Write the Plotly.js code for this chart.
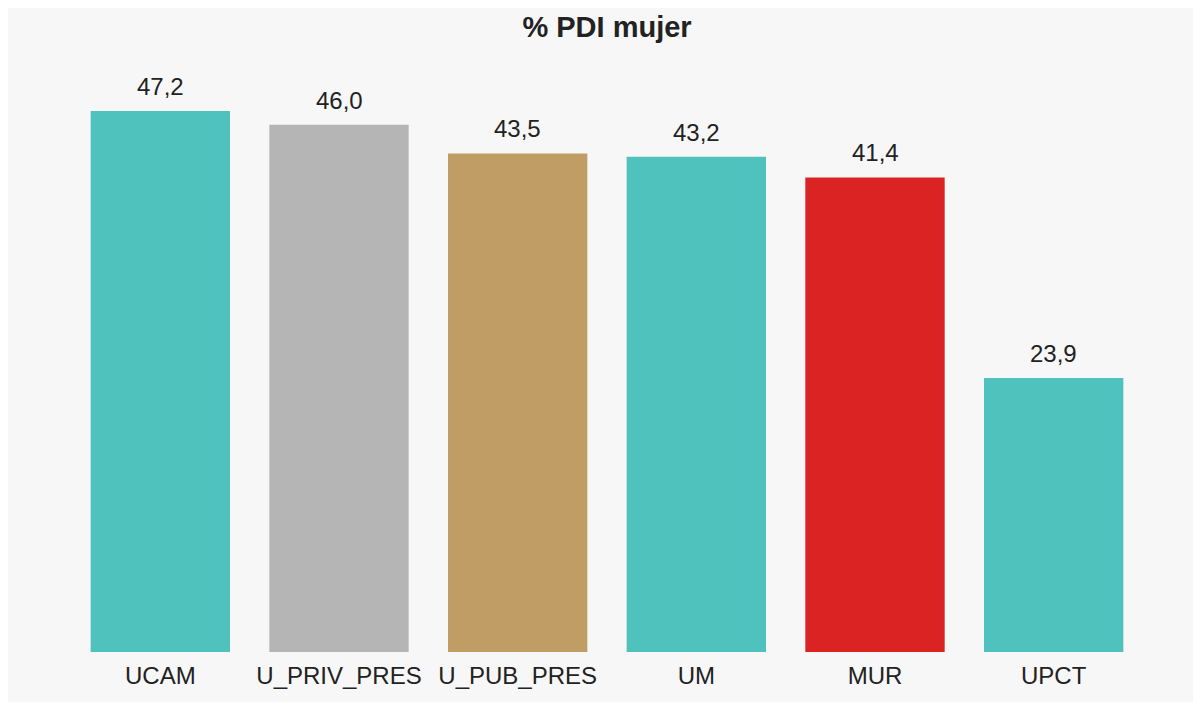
<!DOCTYPE html>
<html>
<head>
<meta charset="utf-8">
<script src="https://cdn.plot.ly/plotly-3.0.1.min.js"></script>
<style>
html,body{margin:0;padding:0;background:#ffffff;}
#chart{position:absolute;left:8px;top:8px;width:1185px;height:694px;}
</style>
</head>
<body>
<div id="chart"></div>
<script>
const categories = ["UCAM", "U_PRIV_PRES", "U_PUB_PRES", "UM", "MUR", "UPCT"];
const values = [47.2, 46.0, 43.5, 43.2, 41.4, 23.9];
const barColors = ["#4fc2bd", "#b5b5b5", "#bf9d65", "#4fc2bd", "#dc2323", "#4fc2bd"];
const titleText = "% PDI mujer";

const fontFam = "'Liberation Sans', Arial, sans-serif";
const textColor = "#222222";

const trace = {
  type: "bar",
  x: categories,
  y: values,
  marker: {color: barColors},
  hoverinfo: "none",
  cliponaxis: false
};

const annotations = categories.map((c, i) => ({
  x: c, y: values[i], xref: "x", yref: "y",
  text: values[i].toFixed(1).replace(".", ","),
  showarrow: false, yanchor: "bottom", yshift: 9,
  font: {family: fontFam, size: 24, color: textColor}
}));

const layout = {
  width: 1185, height: 694,
  paper_bgcolor: "#f7f7f7",
  plot_bgcolor: "#f7f7f7",
  margin: {l: 63, r: 50, t: 48, b: 50, pad: 0},
  separators: ",.",
  bargap: 0.22,
  showlegend: false,
  title: {
    text: titleText,
    font: {family: fontFam, size: 29, color: textColor, weight: "bold"},
    x: 0.5, xref: "paper", xanchor: "center",
    y: 0.973, yref: "container", yanchor: "middle"
  },
  xaxis: {
    showgrid: false, zeroline: false, showline: false, ticks: "",
    ticklabelstandoff: 7,
    tickfont: {family: fontFam, size: 24, color: textColor}
  },
  yaxis: {
    visible: false, range: [0, 52], showgrid: false, zeroline: false
  },
  annotations: annotations
};

Plotly.newPlot("chart", [trace], layout, {displayModeBar: false, staticPlot: true});
</script>
</body>
</html>
